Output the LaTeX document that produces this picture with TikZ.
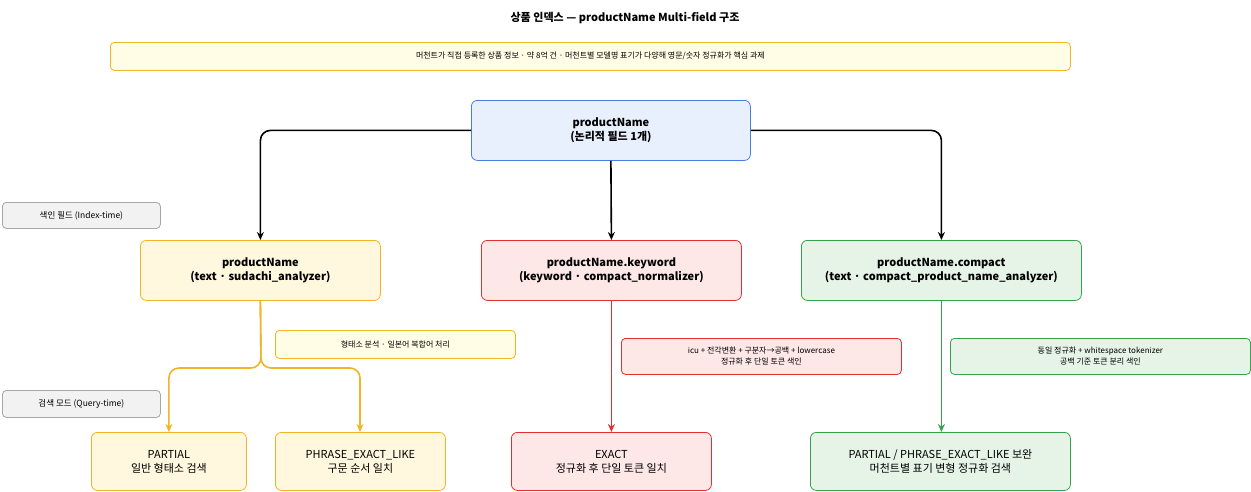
\documentclass[tikz,border=0pt]{standalone}
\usepackage{fontspec}
\setmainfont{Noto Sans CJK KR}
\usetikzlibrary{arrows.meta}
\definecolor{yf}{HTML}{FFF8DE}\definecolor{ys}{HTML}{F0B429}
\definecolor{rf}{HTML}{FDE7E7}\definecolor{rs}{HTML}{E03131}
\definecolor{gf}{HTML}{E6F4E8}\definecolor{gs}{HTML}{37A24A}
\definecolor{bf}{HTML}{E8F0FE}\definecolor{bs}{HTML}{4A7BE0}
\definecolor{nf}{HTML}{FFFDE6}
\tikzset{
 box/.style={draw, rounded corners=6pt, line width=0.8pt, align=center, inner sep=0pt},
 big/.style={box, font=\bfseries\fontsize{11}{14}\selectfont},
 mode/.style={box, font=\fontsize{11}{14}\selectfont},
 note/.style={box, font=\fontsize{8}{11}\selectfont, rounded corners=4pt},
 side/.style={box, draw=gray!70, fill=gray!10, font=\itshape\fontsize{8.5}{11}\selectfont, rounded corners=4pt},
 arr/.style={-{Stealth[length=8pt,width=7pt]}, line width=1.6pt, rounded corners=10pt},
}
\newcommand{\bx}[6]{\node[#1, minimum width=#4pt, minimum height=#5pt, anchor=north west] (#6) at (#2,#3) {};}
\begin{document}
\begin{tikzpicture}[x=1pt,y=-1pt]
\useasboundingbox (0,0) rectangle (1251,491);
\node[font=\bfseries\fontsize{11}{14}\selectfont] (title) at (625,18) {상품 인덱스 — productName Multi-field 구조};
\node[note, draw=ys, fill=nf, minimum width=960pt, minimum height=28pt, anchor=north west] (banner) at (110,42) {머천트가 직접 등록한 상품 정보 · 약 8억 건 · 머천트별 모델명 표기가 다양해 영문/숫자 정규화가 핵심 과제};
\node[big, draw=bs, fill=bf, minimum width=279pt, minimum height=60pt, anchor=north west] (top) at (471,100) {productName\\(논리적 필드 1개)};
\node[side, minimum width=158pt, minimum height=26pt, anchor=north west] (s1) at (2,202) {색인 필드 (Index-time)};
\node[side, minimum width=158pt, minimum height=27pt, anchor=north west] (s2) at (2,390) {검색 모드 (Query-time)};
\node[big, draw=ys, fill=yf, minimum width=240pt, minimum height=60pt, anchor=north west] (f1) at (140,240) {productName\\(text · sudachi\_analyzer)};
\node[big, draw=rs, fill=rf, minimum width=260pt, minimum height=60pt, anchor=north west] (f2) at (481,240) {productName.keyword\\(keyword · compact\_normalizer)};
\node[big, draw=gs, fill=gf, minimum width=280pt, minimum height=60pt, anchor=north west] (f3) at (801,240) {productName.compact\\(text · compact\_product\_name\_analyzer)};
\node[note, draw=ys, fill=nf, minimum width=240pt, minimum height=28pt, anchor=north west] (n1) at (275,330) {형태소 분석 · 일본어 복합어 처리};
\node[note, draw=rs, fill=rf, minimum width=280pt, minimum height=36pt, anchor=north west] (n2) at (621,338) {icu + 전각변환 + 구분자→공백 + lowercase\\정규화 후 단일 토큰 색인};
\node[note, draw=gs, fill=gf, minimum width=300pt, minimum height=36pt, anchor=north west] (n3) at (950,338) {동일 정규화 + whitespace tokenizer\\공백 기준 토큰 분리 색인};
\node[mode, draw=ys, fill=yf, minimum width=155pt, minimum height=58pt, anchor=north west] (m1) at (91,432) {PARTIAL\\일반 형태소 검색};
\node[mode, draw=ys, fill=yf, minimum width=170pt, minimum height=58pt, anchor=north west] (m2) at (275,432) {PHRASE\_EXACT\_LIKE\\구문 순서 일치};
\node[mode, draw=rs, fill=rf, minimum width=200pt, minimum height=58pt, anchor=north west] (m3) at (511,432) {EXACT\\정규화 후 단일 토큰 일치};
\node[mode, draw=gs, fill=gf, minimum width=260pt, minimum height=58pt, anchor=north west] (m4) at (810,432) {PARTIAL / PHRASE\_EXACT\_LIKE 보완\\머천트별 표기 변형 정규화 검색};
\draw[arr] (top.west) -| (f1.north);
\draw[arr] (top.south) -- (f2.north);
\draw[arr] (top.east) -| (f3.north);
\coordinate (sp) at (261,368);
\draw[arr, draw=ys] (f1.south) -- (sp) -| (m1.north);
\draw[arr, draw=ys] (f1.south) -- (sp) -| (m2.north -| 360,0);
\draw[arr, draw=rs] (f2.south) -- (m3.north);
\draw[arr, draw=gs] (f3.south) -- (f3.south |- m4.north);
\end{tikzpicture}
\end{document}
